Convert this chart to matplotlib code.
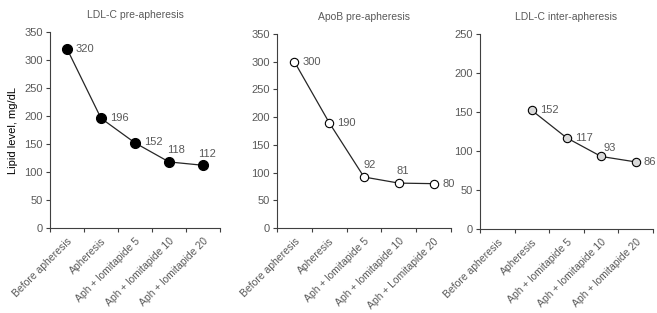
import matplotlib
matplotlib.use('Agg')
import matplotlib.pyplot as plt
import numpy as np

plt.rcParams['font.family'] = ['Liberation Sans', 'DejaVu Sans']

# ── Data ──────────────────────────────────────────────────────────────────────
categories = ["Before apheresis", "Apheresis", "Aph + lomitapide 5",
              "Aph + lomitapide 10", "Aph + lomitapide 20"]
categories_apob = ["Before apheresis", "Apheresis", "Aph + lomitapide 5",
                   "Aph + lomitapide 10", "Aph + Lomitapide 20"]

ldl_pre   = [320, 196, 152, 118, 112]
apob_pre  = [300, 190, 92, 81, 80]
ldl_inter = [np.nan, 152, 117, 93, 86]

titles = ["LDL-C pre-apheresis", "ApoB pre-apheresis", "LDL-C inter-apheresis"]

# ── Layout / style ────────────────────────────────────────────────────────────
W, H = 657, 313
TXT  = '#595959'
FS_TICK = 8
FS_XLAB = 7.5
FS_TTL  = 7.5

# axes boxes in pixels: (left, right, y_zero, y_top)
boxes = [(50, 220, 228, 32), (277, 451, 228, 34), (480, 653, 229, 34)]
ylims = [350, 350, 250]
faces = ['black', 'white', '#d9d9d9']
msize = [7.2, 6.0, 6.0]

# label offsets in pixels (dx, dy, ha) per point
offsets = [
    [(9, 0, 'left'), (9, 0, 'left'), (9, 1, 'left'), (7, 12, 'center'), (4, 11, 'center')],
    [(8, 0, 'left'), (8, 0, 'left'), (6, 12, 'center'), (4, 12, 'center'), (9, 0, 'left')],
    [None, (8, 0, 'left'), (9, 0, 'left'), (9, 8, 'center'), (8, 0, 'left')],
]

series   = [ldl_pre, apob_pre, ldl_inter]
cat_sets = [categories, categories_apob, categories]

fig = plt.figure(figsize=(W / 100, H / 100), dpi=100)

for k in range(3):
    l, r, y0, yt = boxes[k]
    ax = fig.add_axes([l / W, 1 - y0 / H, (r - l) / W, (y0 - yt) / H])
    vals = np.array(series[k], dtype=float)
    x = np.arange(len(vals))

    ax.plot(x, vals, color='#262626', lw=0.9, zorder=2)
    ax.plot(x, vals, 'o', ms=msize[k], mfc=faces[k], mec='black', mew=0.8,
            zorder=3, clip_on=False)

    for i, v in enumerate(vals):
        if np.isnan(v) or offsets[k][i] is None:
            continue
        dx, dy, ha = offsets[k][i]
        ax.annotate(f"{v:.0f}", (i, v), xytext=(dx * 0.72, dy * 0.72),
                    textcoords='offset points', ha=ha, va='center',
                    fontsize=FS_TICK, color=TXT)

    ax.set_xlim(-0.5, len(vals) - 0.5)
    ax.set_ylim(0, ylims[k])
    ax.set_yticks(np.arange(0, ylims[k] + 1, 50))
    ax.set_xticks(x)
    ax.set_xticklabels(cat_sets[k], rotation=45, ha='right',
                       rotation_mode='anchor', fontsize=FS_XLAB, color=TXT)
    ax.set_xticks(np.arange(-0.5, len(vals)), minor=True)
    ax.tick_params(axis='x', which='major', length=0, pad=6)
    ax.tick_params(axis='x', which='minor', length=3, width=0.8, color='#404040')
    ax.tick_params(axis='y', length=3, width=0.8, color='#404040',
                   labelsize=FS_TICK, labelcolor=TXT, pad=2)

    for s in ['top', 'right']:
        ax.spines[s].set_visible(False)
    for s in ['left', 'bottom']:
        ax.spines[s].set_color('#404040')
        ax.spines[s].set_linewidth(0.8)

    ax.set_title(titles[k], fontsize=FS_TTL, color=TXT, pad=10)
    if k == 0:
        ax.set_ylabel("Lipid level, mg/dL", fontsize=FS_TICK, color='black',
                      labelpad=5)

fig.savefig('out.png', dpi=100)
